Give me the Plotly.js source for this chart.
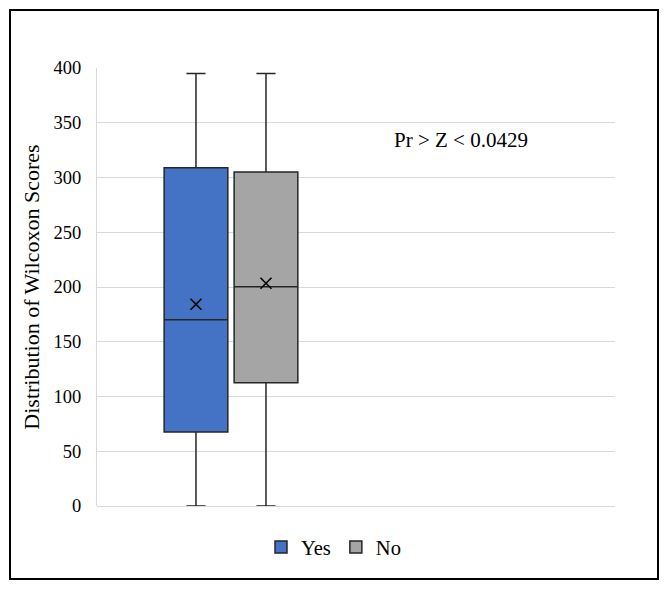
<!DOCTYPE html>
<html>
<head>
<meta charset="utf-8">
<script src="https://cdn.plot.ly/plotly-3.0.1.min.js"></script>
<style>
html,body{margin:0;padding:0;background:#fff;}
#wrap{position:relative;width:667px;height:589px;}
#chart{width:667px;height:589px;}
#frame{position:absolute;left:9px;top:9px;width:646px;height:567px;border:2px solid #000;pointer-events:none;}
</style>
</head>
<body>
<div id="wrap"><div id="chart"></div><div id="frame"></div></div>
<script>
// Data
const groups = ["Yes", "No"];
const lowerFence = [0, 0];
const q1 = [67.6, 112.6];
const median = [170, 200.3];
const q3 = [309, 305];
const upperFence = [395, 395];
const means = [184.2, 203.4];
const fillColors = ["#4472C4", "#A5A5A5"];
const yTicks = [0, 50, 100, 150, 200, 250, 300, 350, 400];
const annotationText = "Pr > Z < 0.0429";
const yTitle = "Distribution of Wilcoxon Scores";

const font = "Liberation Serif, Times New Roman, serif";

const traces = groups.map((g, i) => ({
  type: "box",
  name: g,
  x: [g],
  lowerfence: [lowerFence[i]],
  q1: [q1[i]],
  median: [median[i]],
  q3: [q3[i]],
  upperfence: [upperFence[i]],
  fillcolor: fillColors[i],
  line: {color: "#262626", width: 1.5},
  whiskerwidth: 0.3,
  width: 0.91,
  hoverinfo: "skip"
}));

traces.push({
  type: "scatter",
  mode: "markers",
  x: groups,
  y: means,
  showlegend: false,
  hoverinfo: "skip",
  marker: {symbol: "x-thin-open", size: 11, color: "#000", line: {color: "#000", width: 1.6}}
});

const layout = {
  width: 667, height: 589,
  margin: {l: 97, r: 52, t: 68, b: 83},
  paper_bgcolor: "#fff", plot_bgcolor: "#fff",
  font: {family: font, color: "#000", size: 18},
  boxmode: "overlay",
  showlegend: true,
  xaxis: {
    type: "category",
    categoryarray: groups,
    range: [-1.414, 5.986],
    showticklabels: false,
    showgrid: false, zeroline: false, showline: false, ticks: ""
  },
  yaxis: {
    range: [0, 400],
    tickvals: yTicks,
    ticktext: yTicks.map(String),
    showgrid: true, gridcolor: "#d9d9d9", gridwidth: 1,
    zeroline: true, zerolinecolor: "#d9d9d9", zerolinewidth: 1,
    showline: true, linecolor: "#d9d9d9", linewidth: 1,
    ticks: "", ticklabelstandoff: 11,
    tickfont: {family: font, size: 18.5, color: "#000"},
    title: {text: yTitle, font: {family: font, size: 22, color: "#000"}, standoff: 7}
  },
  legend: {
    orientation: "h",
    xref: "container", yref: "container",
    x: 0.5, xanchor: "center",
    y: 0.071, yanchor: "middle",
    font: {family: font, size: 20.5, color: "#000"},
    itemwidth: 30
  },
  annotations: [{
    text: annotationText,
    xref: "paper", yref: "paper",
    x: 0.703, y: 0.836,
    xanchor: "center", yanchor: "middle",
    showarrow: false,
    font: {family: font, size: 21, color: "#000"}
  }]
};

Plotly.newPlot("chart", traces, layout, {displayModeBar: false, staticPlot: true});
</script>
</body>
</html>
